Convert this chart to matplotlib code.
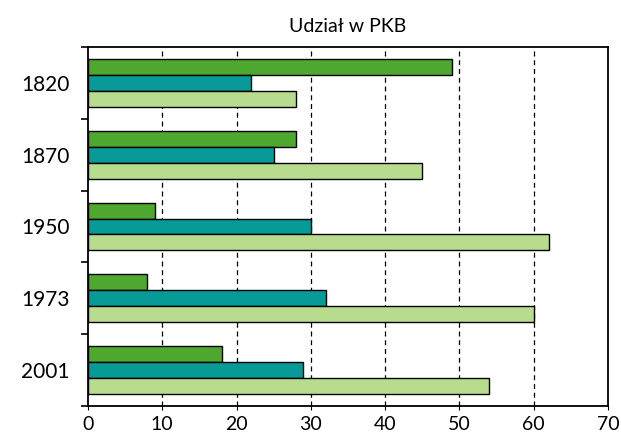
import matplotlib
matplotlib.use('Agg')
import matplotlib.pyplot as plt
import numpy as np

plt.rcParams['font.family'] = ['Lato', 'DejaVu Sans']

years = ['1820', '1870', '1950', '1973', '2001']
seria_1 = [49, 28, 9, 8, 18]
seria_2 = [22, 25, 30, 32, 29]
seria_3 = [28, 45, 62, 60, 54]
kolory = ['#4ea72e', '#089a96', '#b8dc8e']

fig = plt.figure(figsize=(6.21, 4.37), dpi=100)
ax = fig.add_axes([0.1417, 0.071, 0.8373, 0.8214])

y = np.arange(len(years))
h = 0.222
for k, (vals, c) in enumerate(zip([seria_1, seria_2, seria_3], kolory)):
    ax.barh(y + (k - 1) * h, vals, height=h, color=c, edgecolor='black',
            linewidth=1.0, zorder=3)

ax.set_xlim(0, 70)
ax.set_ylim(len(years) - 0.5, -0.5)
ax.set_xticks(np.arange(0, 71, 10))
ax.tick_params(axis='x', labelsize=14, length=3, pad=4)

# separatory grup jako glowne ticki, etykiety lat na srodku
ax.set_yticks(np.arange(-0.5, len(years), 1.0))
ax.set_yticklabels([])
ax.set_yticks(y, minor=True)
ax.set_yticklabels(years, minor=True, fontsize=15)
ax.tick_params(axis='y', which='major', length=5, width=1.2)
ax.tick_params(axis='y', which='minor', length=0, pad=13)

for x in range(10, 70, 10):
    ax.axvline(x, color='black', linestyle=(0, (4, 3)), linewidth=0.9,
               zorder=1)

for s in ax.spines.values():
    s.set_linewidth(1.3)

ax.set_title('Udział w PKB', fontsize=14, pad=11)

plt.savefig('out.png', dpi=100)
